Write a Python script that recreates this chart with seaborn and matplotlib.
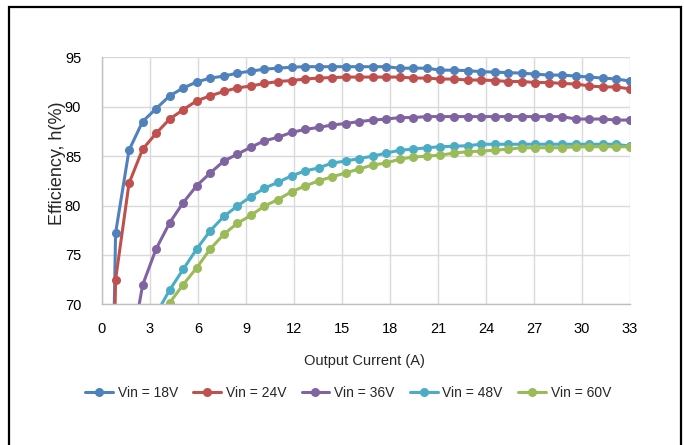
import matplotlib
matplotlib.use("Agg")
import matplotlib.pyplot as plt
import matplotlib.patches as patches
import numpy as np
import pandas as pd
import seaborn as sns

# output current (A), same for every curve
current = [0, 0.85, 1.69, 2.54, 3.38, 4.23, 5.08, 5.92, 6.77, 7.62, 8.46, 9.31,
           10.15, 11.0, 11.85, 12.69, 13.54, 14.38, 15.23, 16.08, 16.92, 17.77,
           18.62, 19.46, 20.31, 21.15, 22.0, 22.85, 23.69, 24.54, 25.38, 26.23,
           27.08, 27.92, 28.77, 29.62, 30.46, 31.31, 32.15, 33.0]

# efficiency (%) per input voltage
eff_18v = [0, 77.2, 85.6, 88.5, 89.8, 91.1, 91.9, 92.5, 92.9, 93.1, 93.4, 93.6,
           93.8, 93.9, 94.0, 94.05, 94.05, 94.05, 94.05, 94.05, 94.05, 94.05,
           93.9, 93.9, 93.9, 93.7, 93.7, 93.65, 93.55, 93.5, 93.45, 93.4,
           93.3, 93.2, 93.2, 93.1, 93.0, 92.9, 92.8, 92.6]
eff_24v = [0, 72.5, 82.25, 85.7, 87.3, 88.75, 89.7, 90.6, 91.1, 91.55, 91.9, 92.1,
           92.35, 92.55, 92.65, 92.8, 92.9, 92.95, 93.0, 93.0, 93.0, 93.0,
           93.0, 92.9, 92.9, 92.8, 92.8, 92.7, 92.7, 92.65, 92.55, 92.55,
           92.45, 92.45, 92.35, 92.3, 92.1, 92.0, 92.0, 91.8]
eff_36v = [0, 45, 64.2, 71.95, 75.6, 78.25, 80.3, 82.0, 83.3, 84.5, 85.2, 85.9,
           86.55, 86.9, 87.4, 87.7, 87.9, 88.15, 88.3, 88.5, 88.65, 88.75,
           88.9, 88.9, 89.0, 89.0, 89.0, 89.0, 89.0, 89.0, 89.0, 89.0,
           89.0, 89.0, 89.0, 88.75, 88.75, 88.75, 88.65, 88.65]
eff_48v = [0, 35, 50, 61, 69.0, 71.45, 73.55, 75.6, 77.45, 78.9, 79.95, 80.9,
           81.75, 82.35, 83.0, 83.5, 83.8, 84.3, 84.5, 84.75, 85.0, 85.3,
           85.6, 85.7, 85.85, 85.95, 86.0, 86.05, 86.2, 86.2, 86.2, 86.2,
           86.2, 86.2, 86.2, 86.2, 86.2, 86.2, 86.2, 86.0]
eff_60v = [0, 30, 45, 57, 65.5, 70.16, 72.0, 73.7, 75.6, 77.1, 78.2, 79.0,
           79.95, 80.6, 81.4, 81.97, 82.5, 82.9, 83.3, 83.7, 84.1, 84.3,
           84.7, 84.9, 85.0, 85.1, 85.3, 85.45, 85.5, 85.6, 85.7, 85.85,
           85.85, 85.85, 85.85, 85.95, 85.95, 85.95, 85.95, 85.95]

series_names = ["Vin = 18V", "Vin = 24V", "Vin = 36V", "Vin = 48V", "Vin = 60V"]
series_vals = [eff_18v, eff_24v, eff_36v, eff_48v, eff_60v]
colors = ["#4F81BD", "#C0504D", "#8064A2", "#4BACC6", "#9BBB59"]

x_ticks = [0, 3, 6, 9, 12, 15, 18, 21, 24, 27, 30, 33]
y_ticks = [70, 75, 80, 85, 90, 95]

# long format table for seaborn
df = pd.concat([pd.DataFrame({"current": current, "eff": v, "series": n})
                for n, v in zip(series_names, series_vals)], ignore_index=True)

sns.set_style("white")
plt.rcParams["font.family"] = ["Liberation Sans", "DejaVu Sans"]

fig = plt.figure(figsize=(6.84, 4.45), dpi=100)
ax = fig.add_axes([0.1491, 0.3162, 0.7719, 0.555])

sns.lineplot(data=df, x="current", y="eff", hue="series", hue_order=series_names,
             palette=colors, marker="o", markersize=6.5, markeredgewidth=0,
             linewidth=2.2, sort=False, ax=ax)

ax.set_xlim(0, 33)
ax.set_ylim(70, 95)
ax.set_xticks(x_ticks)
ax.set_yticks(y_ticks)
ax.grid(True, color="#d9d9d9", linewidth=1.0)
ax.set_axisbelow(True)
for side in ["top", "right"]:
    ax.spines[side].set_visible(False)
for side in ["left", "bottom"]:
    ax.spines[side].set_color("#bfbfbf")
    ax.spines[side].set_linewidth(1.0)
ax.tick_params(axis="both", length=0, labelsize=10.5, colors="black")
ax.tick_params(axis="y", pad=15)
ax.tick_params(axis="x", pad=13)

ax.set_xlabel("Output Current (A)", fontsize=10.5)
ax.xaxis.set_label_coords(0.497, -0.2)
ax.set_ylabel("Efficiency, h(%)", fontsize=13)
ax.yaxis.set_label_coords(-0.068, 0.57)

handles, labels = ax.get_legend_handles_labels()
ax.legend(handles, labels, loc="center", bbox_to_anchor=(0.466, -0.36), ncol=5,
          frameon=False, fontsize=10, handlelength=2.0, handletextpad=0.35,
          columnspacing=1.1)

# black frame round the picture
fig.patches.append(patches.Rectangle((8.5 / 684, -0.05), (681 - 8.5) / 684,
                                     1 - 7 / 445 + 0.05, transform=fig.transFigure,
                                     fill=False, edgecolor="black", linewidth=1.6))

fig.savefig("out.png", dpi=100)
